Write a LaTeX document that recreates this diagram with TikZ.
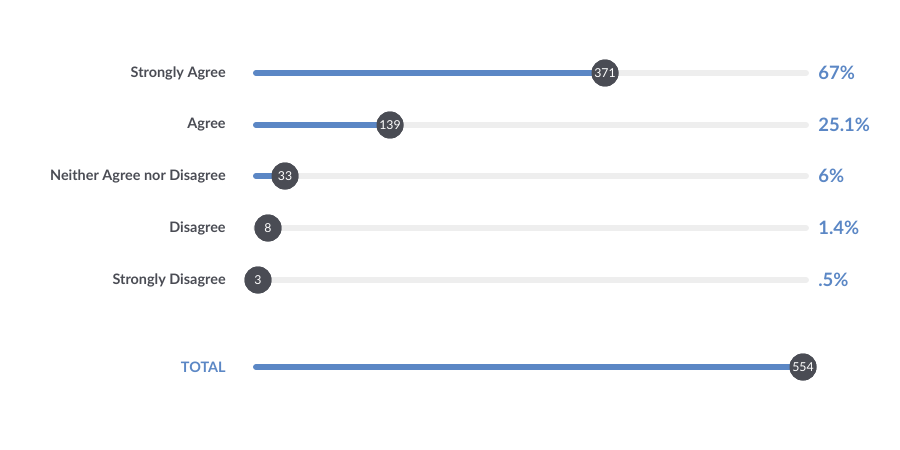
\documentclass[tikz,border=0pt]{standalone}
\usepackage{fontspec}
\setmainfont{Lato}
\definecolor{dk}{HTML}{4A4C54}
\definecolor{bl}{HTML}{5B87C5}
\definecolor{tr}{HTML}{EEEEEE}
\begin{document}
\begin{tikzpicture}[x=0.02cm,y=-0.02cm,
 lab/.style={anchor=east,font=\bfseries\fontsize{8.2}{10}\selectfont,text=dk,inner sep=0},
 pct/.style={anchor=west,font=\bfseries\fontsize{10.5}{12}\selectfont,text=bl,inner sep=0},
 dot/.style={circle,fill=dk,minimum size=0.54cm,inner sep=0,text=white,font=\fontsize{7}{8}\selectfont},
 trk/.style={line width=3.4pt,line cap=round,draw=tr},
 bar/.style={line width=3.4pt,line cap=round,draw=bl}]
\useasboundingbox (0,0) rectangle (900,450);
\foreach \y/\t/\v/\p/\n in {73/Strongly Agree/605/67\%/371,125/Agree/390/25.1\%/139,176/Neither Agree nor Disagree/285/6\%/33,228/Disagree/268/1.4\%/8,280/Strongly Disagree/258/.5\%/3}{
 \coordinate (s\n) at (256,\y);
 \coordinate (e\n) at (806,\y);
 \draw[trk] (s\n) -- (e\n);
 \node[dot] (d\n) at (\v,\y) {\n};
 \begin{scope}[on background layer/.try]\end{scope}
 \node[lab] (l\n) at (226,\y) {\t};
 \node[pct] (p\n) at (818,\y) {\p};
}
\draw[bar] (s371) -- (d371.center); \node[dot] at (d371) {371};
\draw[bar] (s139) -- (d139.center); \node[dot] at (d139) {139};
\draw[bar] (s33) -- (d33.center); \node[dot] at (d33) {33};
\node[dot] at (d8) {8};
\node[dot] at (d3) {3};
\coordinate (st) at (256,367);
\node[dot] (dt) at (803,367) {554};
\draw[bar] (st) -- (dt.center);
\node[dot] at (dt) {554};
\node[lab,text=bl] (lt) at (226,367) {TOTAL};
\end{tikzpicture}
\end{document}
